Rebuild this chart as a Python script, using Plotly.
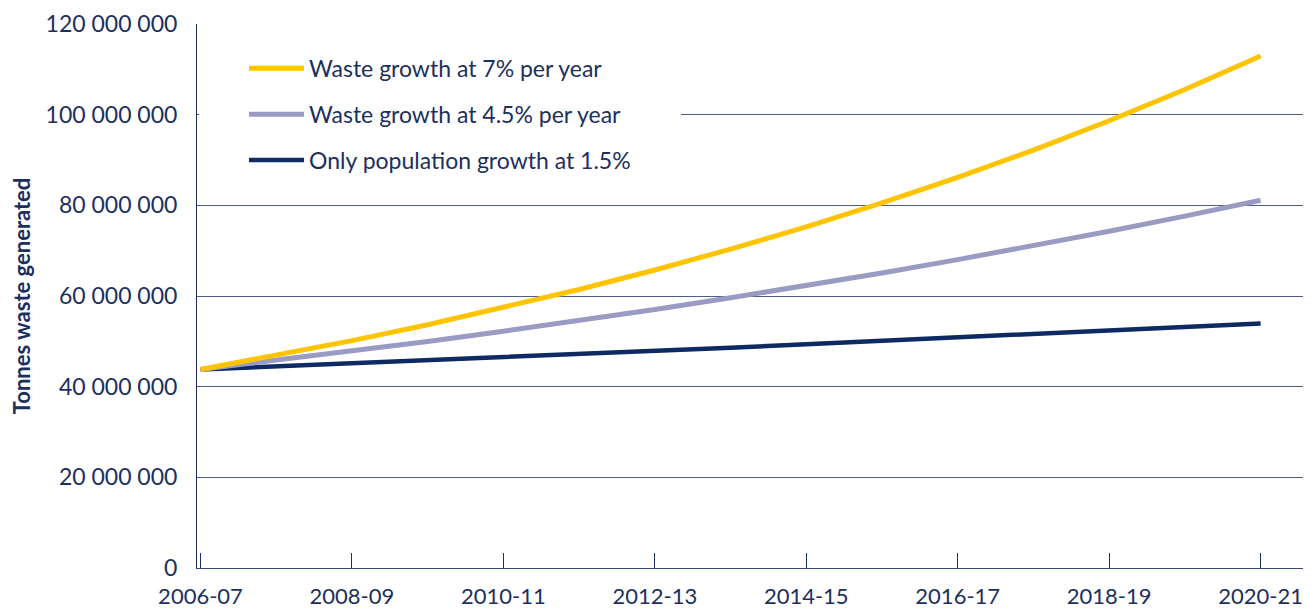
import plotly.graph_objects as go

years = ["2006-07", "2007-08", "2008-09", "2009-10", "2010-11", "2011-12", "2012-13",
         "2013-14", "2014-15", "2015-16", "2016-17", "2017-18", "2018-19", "2019-20", "2020-21"]

growth_7 = [43.8, 46.87, 50.15, 53.66, 57.41, 61.43, 65.73, 70.34, 75.26, 80.53,
            86.16, 92.2, 98.65, 105.55, 112.94]
growth_45 = [43.8, 45.77, 47.83, 49.98, 52.23, 54.58, 57.04, 59.61, 62.29, 65.09,
             68.02, 71.08, 74.28, 77.62, 81.12]
growth_pop = [43.8, 44.46, 45.12, 45.8, 46.49, 47.18, 47.89, 48.61, 49.34, 50.08,
              50.83, 51.59, 52.37, 53.15, 53.95]

series_names = ["Waste growth at 7% per year", "Waste growth at 4.5% per year",
                "Only population growth at 1.5%"]

y_tickvals = [0, 20e6, 40e6, 60e6, 80e6, 100e6, 120e6]
y_ticktext = ["0", "20 000 000", "40 000 000", "60 000 000", "80 000 000",
              "100 000 000", "120 000 000"]
x_tickvals = years[::2]

NAVY = "#1c2f5e"
FONT = "Lato"

fig = go.Figure()

# draw order: population (bottom), 4.5%, 7% (top)
fig.add_trace(go.Scatter(
    x=years, y=[v * 1e6 for v in growth_pop], mode="lines", name=series_names[2],
    line=dict(color="#0d2a63", width=4.5), legendrank=3, legendgroup="c"))
fig.add_trace(go.Scatter(
    x=years, y=[v * 1e6 for v in growth_45], mode="lines", name=series_names[1],
    line=dict(color="#9a9ac3", width=5), legendrank=2, legendgroup="b"))
fig.add_trace(go.Scatter(
    x=years, y=[v * 1e6 for v in growth_7], mode="lines", name=series_names[0],
    line=dict(color="#ffc400", width=5), legendrank=1, legendgroup="a"))

# white panel behind the legend hiding the gridline it overlaps
fig.add_shape(type="rect", xref="paper", yref="y", layer="above",
              x0=0.002, x1=0.4376, y0=92e6, y1=108e6,
              fillcolor="white", line=dict(width=0))

fig.update_layout(
    width=1306, height=602,
    margin=dict(l=189, r=11, t=16, b=42),
    paper_bgcolor="white", plot_bgcolor="white",
    font=dict(family=FONT, color=NAVY, size=23),
    showlegend=True,
    legend=dict(
        x=0.0425, y=0.958, xanchor="left", yanchor="top",
        bgcolor="white", borderwidth=0,
        font=dict(family=FONT, size=23, color=NAVY),
        traceorder="grouped", tracegroupgap=13,
        itemwidth=55,
    ),
    xaxis=dict(
        type="category", range=[-0.046, 14.56], automargin=False,
        tickmode="array", tickvals=x_tickvals, ticktext=x_tickvals,
        ticks="inside", ticklen=15, tickwidth=1, tickcolor=NAVY,
        showline=True, linecolor="#3a4a78", linewidth=1,
        showgrid=False, zeroline=False,
        ticklabelstandoff=9,
        tickfont=dict(family=FONT, size=22, color=NAVY),
    ),
    yaxis=dict(
        range=[0, 120e6], automargin=False,
        tickmode="array", tickvals=y_tickvals, ticktext=y_ticktext,
        showgrid=True, gridcolor="#4d5d8a", gridwidth=1,
        showline=True, linecolor=NAVY, linewidth=1, zeroline=False,
        ticks="", ticklabelstandoff=14,
        tickfont=dict(family=FONT, size=23, color=NAVY),
        title=dict(text="<b>Tonnes waste generated</b>", standoff=8,
                   font=dict(family=FONT, size=22, color=NAVY)),
    ),
)

fig.write_html("out.html")
